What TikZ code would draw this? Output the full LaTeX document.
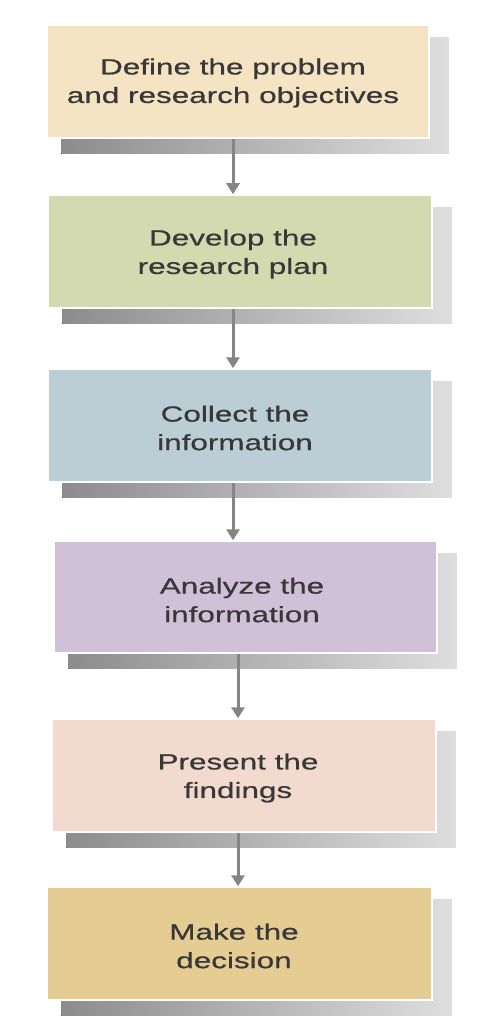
\documentclass[tikz,border=0pt]{standalone}
\usepackage{fontspec}
\setmainfont{Liberation Sans}
\newfontfamily\widefont[FakeStretch=1.43,FakeBold=0.6]{Liberation Sans}
\usetikzlibrary{calc,arrows.meta,backgrounds}
\definecolor{c1}{HTML}{F4E4C4}
\definecolor{c2}{HTML}{D3DAAF}
\definecolor{c3}{HTML}{BBCED5}
\definecolor{c4}{HTML}{D0C1D8}
\definecolor{c5}{HTML}{F2DBCE}
\definecolor{c6}{HTML}{E4CC92}
\definecolor{txt}{HTML}{383838}
\definecolor{arrgray}{HTML}{858585}
\definecolor{shdark}{HTML}{8C8C8C}
\definecolor{shlight}{HTML}{DEDEDE}
\tikzset{
  stepbox/.style={rectangle, draw=white, line width=1.5pt, inner sep=0pt},
  steptext/.style={text=txt, align=center, font=\widefont\fontsize{22}{28.5}\selectfont},
  flowarrow/.style={draw=arrgray, line width=3pt, -{Triangle[width=13pt,length=11pt]}},
  shadowbar/.style={left color=shdark, right color=shlight, draw=none}
}
\begin{document}
\begin{tikzpicture}[x=1pt,y=-1pt]
\useasboundingbox (0,0) rectangle (480,1035);
% boxes
\node[stepbox, fill=c1, minimum width=382pt, minimum height=113pt] (b1) at (238,81.5) {};
\node[stepbox, fill=c2, minimum width=384pt, minimum height=113pt] (b2) at (240,251.5) {};
\node[stepbox, fill=c3, minimum width=384pt, minimum height=113pt] (b3) at (240,425.5) {};
\node[stepbox, fill=c4, minimum width=383pt, minimum height=112pt] (b4) at (245.5,597) {};
\node[stepbox, fill=c5, minimum width=384pt, minimum height=113pt] (b5) at (244,775.5) {};
\node[stepbox, fill=c6, minimum width=385pt, minimum height=113pt] (b6) at (239.5,943.5) {};
% texts
\node[steptext] (t1) at (233,83) {Define the problem\\and research objectives};
\node[steptext] (t2) at (233,254) {Develop the\\research plan};
\node[steptext] (t3) at (235,428) {Collect the\\information};
\node[steptext] (t4) at (242,600) {Analyze the\\information};
\node[steptext] (t5) at (238,778) {Present the\\findings};
\node[steptext] (t6) at (234,946) {Make the\\decision};
% shadows
\begin{pgfonlayer}{background}
\fill[white] (0,0) rectangle (480,1035);
\foreach \b in {b1,b2,b3,b4,b5,b6}{
  \fill[shadowbar] ($(\b.north west)+(15,13)$) rectangle ($(\b.south east)+(19,15)$);
}
\end{pgfonlayer}
% arrows
\draw[flowarrow] (t2 |- b1.south) -- (t2 |- b2.north);
\draw[flowarrow] (t2 |- b2.south) -- (t2 |- b3.north);
\draw[flowarrow] (t2 |- b3.south) -- (t2 |- b4.north);
\draw[flowarrow] (t5 |- b4.south) -- (t5 |- b5.north);
\draw[flowarrow] (t5 |- b5.south) -- (t5 |- b6.north);
\end{tikzpicture}
\end{document}
